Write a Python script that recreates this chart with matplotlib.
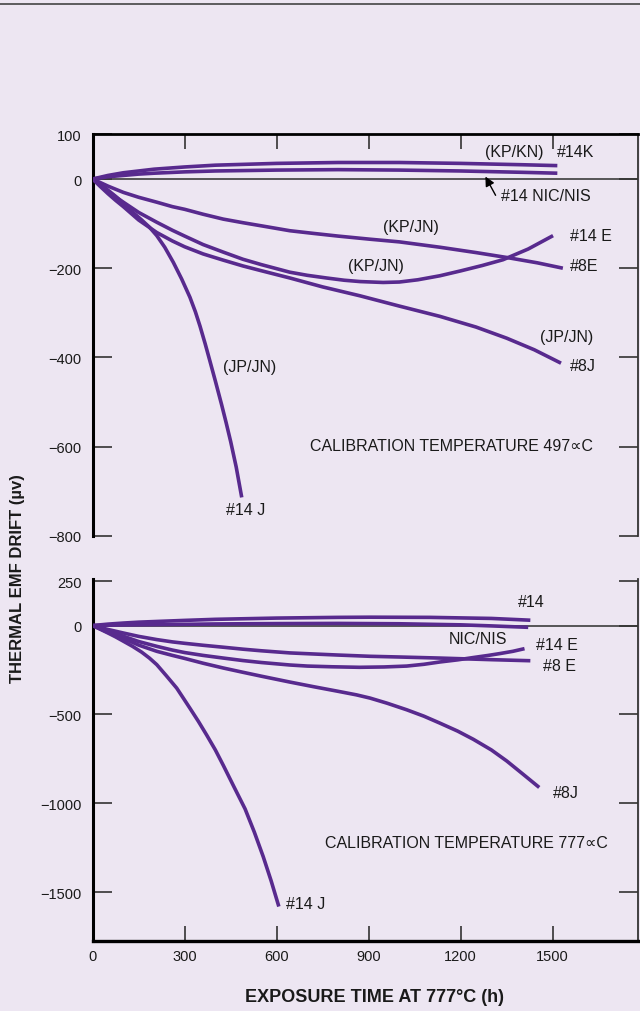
import matplotlib.pyplot as plt

plt.rcParams['font.family'] = ['Liberation Sans', 'DejaVu Sans']

# drift after exposure, calibration at 497 C  (time in h, drift in uV)
k14_t = [0, 50, 100, 150, 200, 300, 400, 600, 800, 1000, 1200, 1400, 1515]
k14_v = [0, 8, 14, 18, 22, 27, 31, 35, 37, 37, 35, 32, 30]
nic14_t = [0, 50, 100, 150, 200, 300, 400, 600, 800, 1000, 1200, 1400, 1515]
nic14_v = [0, 5, 8, 11, 13, 16, 18, 20, 21, 20, 18, 15, 13]
e8_t = [0, 25, 50, 75, 100, 150, 209, 260, 300, 360, 426, 490, 550, 643, 720, 800,
        904, 1000, 1132, 1250, 1350, 1450, 1533]
e8_v = [0, -8, -16, -23, -30, -41, -52, -62, -68, -79, -90, -98, -105, -116, -122, -128,
        -135, -141, -153, -165, -176, -188, -200]
e14_t = [0, 25, 50, 75, 100, 150, 209, 260, 300, 360, 426, 490, 550, 643, 700, 763, 820,
         872, 947, 1000, 1060, 1132, 1200, 1270, 1338, 1420, 1501]
e14_v = [0, -14, -28, -40, -52, -75, -97, -115, -128, -147, -164, -180, -192, -209, -216,
         -222, -227, -230, -232, -231, -226, -217, -206, -194, -181, -157, -127]
j8_t = [0, 25, 50, 75, 100, 150, 209, 260, 300, 360, 426, 490, 546, 643, 750, 872, 1000,
        1132, 1250, 1350, 1440, 1527]
j8_v = [0, -17, -33, -48, -62, -92, -120, -139, -152, -168, -182, -195, -205, -222, -242,
        -262, -285, -308, -332, -357, -383, -413]
j14_t = [0, 25, 50, 75, 100, 130, 160, 185, 209, 235, 263, 290, 317, 335, 350, 367, 383,
         400, 420, 435, 450, 468, 486]
j14_v = [0, -12, -25, -39, -55, -74, -92, -108, -127, -153, -187, -224, -265, -298, -330,
         -370, -410, -453, -505, -546, -589, -646, -714]

# drift after exposure, calibration at 777 C
k14b_t = [0, 50, 100, 150, 209, 300, 400, 600, 800, 904, 1100, 1300, 1427]
k14b_v = [0, 8, 14, 19, 23, 29, 35, 42, 46, 47, 46, 40, 30]
nic14b_t = [0, 50, 100, 209, 400, 600, 800, 1000, 1200, 1300, 1420]
nic14b_v = [0, 2, 3, 5, 9, 11, 12, 10, 4, -2, -10]
e8b_t = [0, 25, 50, 75, 100, 150, 209, 260, 300, 360, 426, 490, 550, 643, 720, 800, 904,
         1000, 1132, 1300, 1427]
e8b_v = [0, -11, -22, -32, -42, -61, -79, -92, -100, -111, -122, -133, -142, -154, -160,
         -166, -173, -177, -183, -192, -198]
e14b_t = [0, 25, 50, 75, 100, 150, 209, 260, 300, 360, 426, 490, 550, 643, 700, 780, 870,
          950, 1024, 1080, 1132, 1190, 1241, 1290, 1330, 1370, 1408]
e14b_v = [0, -15, -30, -45, -60, -90, -117, -138, -152, -168, -183, -197, -208, -222, -228,
          -232, -235, -233, -228, -218, -205, -193, -180, -168, -157, -145, -130]
j8b_t = [0, 25, 50, 75, 100, 150, 209, 260, 300, 360, 426, 490, 550, 643, 720, 800, 860,
         904, 960, 1024, 1080, 1132, 1190, 1241, 1300, 1350, 1400, 1456]
j8b_v = [0, -19, -38, -56, -72, -110, -145, -168, -185, -212, -239, -263, -285, -318, -344,
         -370, -390, -408, -437, -474, -510, -549, -594, -640, -700, -762, -832, -911]
j14b_t = [0, 25, 50, 75, 100, 130, 160, 185, 209, 240, 274, 295, 317, 345, 372, 400, 426,
          460, 497, 527, 556, 582, 607]
j14b_v = [0, -21, -42, -64, -88, -117, -150, -183, -220, -282, -352, -407, -465, -540, -617,
          -700, -787, -905, -1032, -1162, -1300, -1437, -1581]

x_ticks = [0, 300, 600, 900, 1200, 1500]
top_yticks = [100, 0, -200, -400, -600, -800]
bot_yticks = [250, 0, -500, -1000, -1500]

bg = '#ede6f2'
purple = '#582a8e'
ink = '#1a1a1a'

fig = plt.figure(figsize=(6.4, 10.12), dpi=100)
fig.patch.set_facecolor(bg)

ax1 = fig.add_axes([0.1448, 0.4696, 0.8516, 0.3966])
ax2 = fig.add_axes([0.1448, 0.0695, 0.8516, 0.3574])

for ax in (ax1, ax2):
    ax.set_facecolor(bg)
    ax.set_xlim(0, 1777)
    ax.axhline(0, color='#3c3c3c', lw=1.2, zorder=1)
    ax.spines['left'].set_linewidth(2.2)
    ax.spines['right'].set_linewidth(1.3)
    ax.spines['right'].set_color('#333333')
    ax.tick_params(axis='y', direction='in', length=14, width=1.2, color='#333333',
                   right=True, labelsize=10.5, pad=8, labelcolor=ink)
    ax.tick_params(axis='x', direction='in', length=11, width=1.2, color='#333333',
                   labelsize=10.5, pad=6, labelcolor=ink)
    ax.set_xticks(x_ticks)

line_kw = dict(color=purple, lw=2.6, solid_capstyle='butt', solid_joinstyle='round', zorder=3)

# --- 497 C panel
ax1.set_ylim(-800, 100)
ax1.set_yticks(top_yticks)
ax1.spines['bottom'].set_visible(False)
ax1.spines['top'].set_linewidth(2.0)
ax1.tick_params(axis='x', top=True, bottom=False, labelbottom=False)

for t, v in [(k14_t, k14_v), (nic14_t, nic14_v), (e8_t, e8_v),
             (e14_t, e14_v), (j8_t, j8_v), (j14_t, j14_v)]:
    ax1.plot(t, v, **line_kw)

fs = 11.5
ax1.text(1374, 62, '(KP/KN)', ha='center', va='center', fontsize=fs, color=ink)
ax1.text(1576, 62, '#14K', ha='center', va='center', fontsize=fs, color=ink)
ax1.text(1331, -36, '#14 NIC/NIS', ha='left', va='center', fontsize=fs, color=ink)
ax1.annotate('', xy=(1276, 11), xytext=(1318, -42),
             arrowprops=dict(arrowstyle='-|>', color='black', lw=1.0, mutation_scale=14))
ax1.text(1038, -106, '(KP/JN)', ha='center', va='center', fontsize=fs, color=ink)
ax1.text(1556, -126, '#14 E', ha='left', va='center', fontsize=fs, color=ink)
ax1.text(923, -194, '(KP/JN)', ha='center', va='center', fontsize=fs, color=ink)
ax1.text(1556, -194, '#8E', ha='left', va='center', fontsize=fs, color=ink)
ax1.text(1544, -353, '(JP/JN)', ha='center', va='center', fontsize=fs, color=ink)
ax1.text(1556, -419, '#8J', ha='left', va='center', fontsize=fs, color=ink)
ax1.text(513, -420, '(JP/JN)', ha='center', va='center', fontsize=fs, color=ink)
ax1.text(498, -740, '#14 J', ha='center', va='center', fontsize=fs, color=ink)
ax1.text(1170, -598, 'CALIBRATION TEMPERATURE 497\u221dC', ha='center', va='center',
         fontsize=fs, color=ink)

# --- 777 C panel
ax2.set_ylim(-1773, 262)
ax2.set_yticks(bot_yticks)
ax2.spines['top'].set_visible(False)
ax2.spines['bottom'].set_linewidth(2.4)
ax2.tick_params(axis='x', top=False, bottom=True)

for t, v in [(k14b_t, k14b_v), (nic14b_t, nic14b_v), (e8b_t, e8b_v),
             (e14b_t, e14b_v), (j8b_t, j8b_v), (j14b_t, j14b_v)]:
    ax2.plot(t, v, **line_kw)

ax2.text(1431, 138, '#14', ha='center', va='center', fontsize=fs, color=ink)
ax2.text(1257, -75, 'NIC/NIS', ha='center', va='center', fontsize=fs, color=ink)
ax2.text(1515, -107, '#14 E', ha='center', va='center', fontsize=fs, color=ink)
ax2.text(1522, -224, '#8 E', ha='center', va='center', fontsize=fs, color=ink)
ax2.text(1544, -939, '#8J', ha='center', va='center', fontsize=fs, color=ink)
ax2.text(695, -1566, '#14 J', ha='center', va='center', fontsize=fs, color=ink)
ax2.text(1217, -1222, 'CALIBRATION TEMPERATURE 777\u221dC', ha='center', va='center',
         fontsize=fs, color=ink)

fig.text(0.028, 0.428, 'THERMAL EMF DRIFT (\u00b5v)', rotation=90, ha='center', va='center',
         fontsize=12, fontweight='bold', color=ink)
fig.text(0.585, 0.0148, 'EXPOSURE TIME AT 777\u00b0C (h)', ha='center', va='center',
         fontsize=13, fontweight='bold', color=ink)

# rule across the top of the page
fig.add_artist(plt.Line2D([0, 1], [0.9953, 0.9953], transform=fig.transFigure,
                          color='#444444', lw=1.2))

fig.savefig('out.png', dpi=100, facecolor=bg)
